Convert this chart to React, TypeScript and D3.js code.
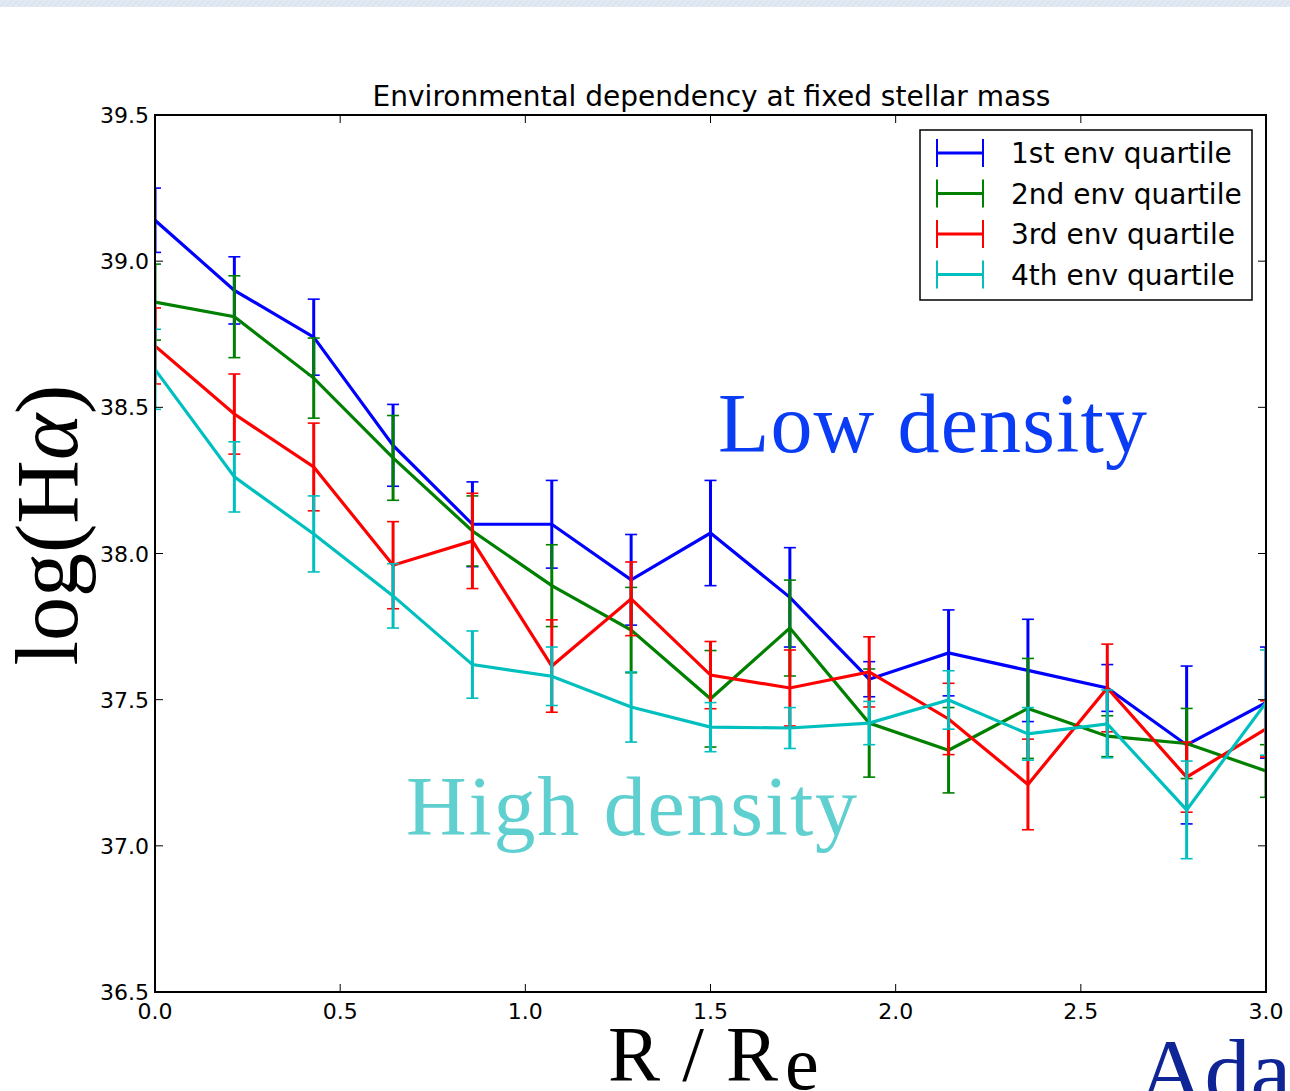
import React from "react";
import * as d3 from "d3";

const radii = [0, 3 / 14, 6 / 14, 9 / 14, 12 / 14, 15 / 14, 18 / 14, 21 / 14, 24 / 14, 27 / 14, 30 / 14, 33 / 14, 36 / 14, 39 / 14, 3];

const q1Values = [39.14, 38.9, 38.74, 38.37, 38.1, 38.1, 37.91, 38.07, 37.85, 37.57, 37.66, 37.6, 37.54, 37.345, 37.49];
const q1Errors = [0.11, 0.115, 0.13, 0.14, 0.145, 0.15, 0.155, 0.18, 0.17, 0.06, 0.147, 0.175, 0.08, 0.27, 0.19];

const q2Values = [38.86, 38.81, 38.6, 38.327, 38.077, 37.89, 37.738, 37.503, 37.745, 37.42, 37.327, 37.47, 37.375, 37.35, 37.256];
const q2Errors = [0.13, 0.14, 0.137, 0.145, 0.12, 0.14, 0.146, 0.165, 0.164, 0.185, 0.146, 0.171, 0.07, 0.12, 0.09];

const q3Values = [38.71, 38.477, 38.296, 37.96, 38.043, 37.615, 37.845, 37.584, 37.54, 37.595, 37.434, 37.21, 37.54, 37.235, 37.4];
const q3Errors = [0.13, 0.137, 0.15, 0.149, 0.163, 0.158, 0.126, 0.115, 0.13, 0.12, 0.122, 0.155, 0.15, 0.12, 0.096];

const q4Values = [38.63, 38.262, 38.067, 37.855, 37.62, 37.58, 37.475, 37.406, 37.403, 37.42, 37.499, 37.383, 37.417, 37.123, 37.49];
const q4Errors = [0.137, 0.12, 0.13, 0.11, 0.115, 0.1, 0.12, 0.084, 0.07, 0.074, 0.1, 0.09, 0.116, 0.167, 0.18];

const seriesNames = ["1st env quartile", "2nd env quartile", "3rd env quartile", "4th env quartile"];
const seriesColors = ["#0000ff", "#008000", "#ff0000", "#00bfbf"];

const xTicks = [0, 0.5, 1.0, 1.5, 2.0, 2.5, 3.0];
const yTicks = [36.5, 37.0, 37.5, 38.0, 38.5, 39.0, 39.5];

const titleText = "Environmental dependency at fixed stellar mass";

export default function App() {
  const W = 1290;
  const H = 1091;
  const left = 155, right = 1266, top = 115, bottom = 992;
  const x = d3.scaleLinear().domain([0, 3]).range([left, right]);
  const y = d3.scaleLinear().domain([36.5, 39.5]).range([bottom, top]);

  const series = [
    { v: q1Values, e: q1Errors },
    { v: q2Values, e: q2Errors },
    { v: q3Values, e: q3Errors },
    { v: q4Values, e: q4Errors },
  ];

  const line = d3
    .line<number>()
    .x((_, i) => x(radii[i]))
    .y((d) => y(d));

  const capHalf = 6;
  const tickLen = 8;
  const sans = "'DejaVu Sans', sans-serif";
  const serif = "'Liberation Serif', 'DejaVu Serif', serif";

  return (
    <svg
      width={W}
      height={H}
      style={{ position: "absolute", left: 0, top: 0, background: "#fff" }}
    >
      <defs>
        <clipPath id="plotclip">
          <rect x={left} y={top} width={right - left} height={bottom - top} />
        </clipPath>
        <pattern id="bgpat" width="12" height="7" patternUnits="userSpaceOnUse">
          <rect width="12" height="7" fill="#e3e9f3" />
          <path d="M0 6 L6 1 M6 6 L12 1" stroke="#d6deeb" strokeWidth="1" />
        </pattern>
      </defs>
      <rect x={0} y={0} width={W} height={7} fill="url(#bgpat)" />

      {/* title */}
      <text x={(left + right) / 2 + 1} y={106} textAnchor="middle" fontFamily={sans} fontSize={28} fill="#000">
        {titleText}
      </text>

      {/* series */}
      <g clipPath="url(#plotclip)">
        {series.map((s, si) => (
          <g key={si}>
            <path d={line(s.v) || ""} fill="none" stroke={seriesColors[si]} strokeWidth={3.2} strokeLinejoin="miter" />
            {s.v.map((v, i) => {
              const cx = x(radii[i]);
              const y1 = y(v + s.e[i]);
              const y2 = y(v - s.e[i]);
              return (
                <g key={i} stroke={seriesColors[si]}>
                  <line x1={cx} x2={cx} y1={y1} y2={y2} strokeWidth={3} />
                  <line x1={cx - capHalf} x2={cx + capHalf} y1={y1} y2={y1} strokeWidth={1.6} />
                  <line x1={cx - capHalf} x2={cx + capHalf} y1={y2} y2={y2} strokeWidth={1.6} />
                </g>
              );
            })}
          </g>
        ))}
      </g>

      {/* ticks */}
      {xTicks.map((t, i) => (
        <g key={"xt" + i}>
          <line x1={x(t)} x2={x(t)} y1={bottom} y2={bottom - tickLen} stroke="#000" strokeWidth={1} />
          <line x1={x(t)} x2={x(t)} y1={top} y2={top + tickLen} stroke="#000" strokeWidth={1} />
          <text x={x(t)} y={1019} textAnchor="middle" fontFamily={sans} fontSize={22} fill="#000">
            {t.toFixed(1)}
          </text>
        </g>
      ))}
      {yTicks.map((t, i) => (
        <g key={"yt" + i}>
          <line x1={left} x2={left + tickLen} y1={y(t)} y2={y(t)} stroke="#000" strokeWidth={1} />
          <line x1={right} x2={right - tickLen} y1={y(t)} y2={y(t)} stroke="#000" strokeWidth={1} />
          <text x={149} y={y(t) + 8} textAnchor="end" fontFamily={sans} fontSize={22} fill="#000">
            {t.toFixed(1)}
          </text>
        </g>
      ))}

      {/* axes frame */}
      <rect x={left} y={top} width={right - left} height={bottom - top} fill="none" stroke="#000" strokeWidth={2} />

      {/* legend */}
      <g>
        <rect x={920} y={130} width={332} height={170} fill="#fff" stroke="#000" strokeWidth={1.5} />
        {seriesNames.map((n, i) => {
          const ly = 153 + i * 40.5;
          return (
            <g key={"lg" + i}>
              <g stroke={seriesColors[i]}>
                <line x1={937} x2={983} y1={ly} y2={ly} strokeWidth={3} />
                <line x1={937} x2={937} y1={ly - 14} y2={ly + 14} strokeWidth={2} />
                <line x1={983} x2={983} y1={ly - 14} y2={ly + 14} strokeWidth={2} />
              </g>
              <text x={1011} y={ly + 10} fontFamily={sans} fontSize={28} fill="#000">
                {n}
              </text>
            </g>
          );
        })}
      </g>

      {/* annotations */}
      <text x={718} y={452} fontFamily={serif} fontSize={84} fill="#0a3cf5" textLength={429} lengthAdjust="spacing">
        Low density
      </text>
      <text x={406} y={835} fontFamily={serif} fontSize={84} fill="#5fcfcf" textLength={451} lengthAdjust="spacing">
        High density
      </text>

      {/* y label */}
      <text
        transform="translate(77, 525) rotate(-90)"
        textAnchor="middle"
        fontFamily={serif}
        fontSize={88}
        fill="#000"
      >
        log(H<tspan fontStyle="italic">α</tspan>)
      </text>

      {/* x label */}
      <text x={608} y={1080} fontFamily={serif} fontSize={78} fill="#000" textLength={170} lengthAdjust="spacing">
        R / R
      </text>
      <text x={785} y={1089} fontFamily={serif} fontSize={76} fill="#000">
        e
      </text>

      {/* cropped author text */}
      <text x={1138} y={1102} fontFamily={serif} fontSize={92} fill="#102595">
        Adam
      </text>
    </svg>
  );
}
